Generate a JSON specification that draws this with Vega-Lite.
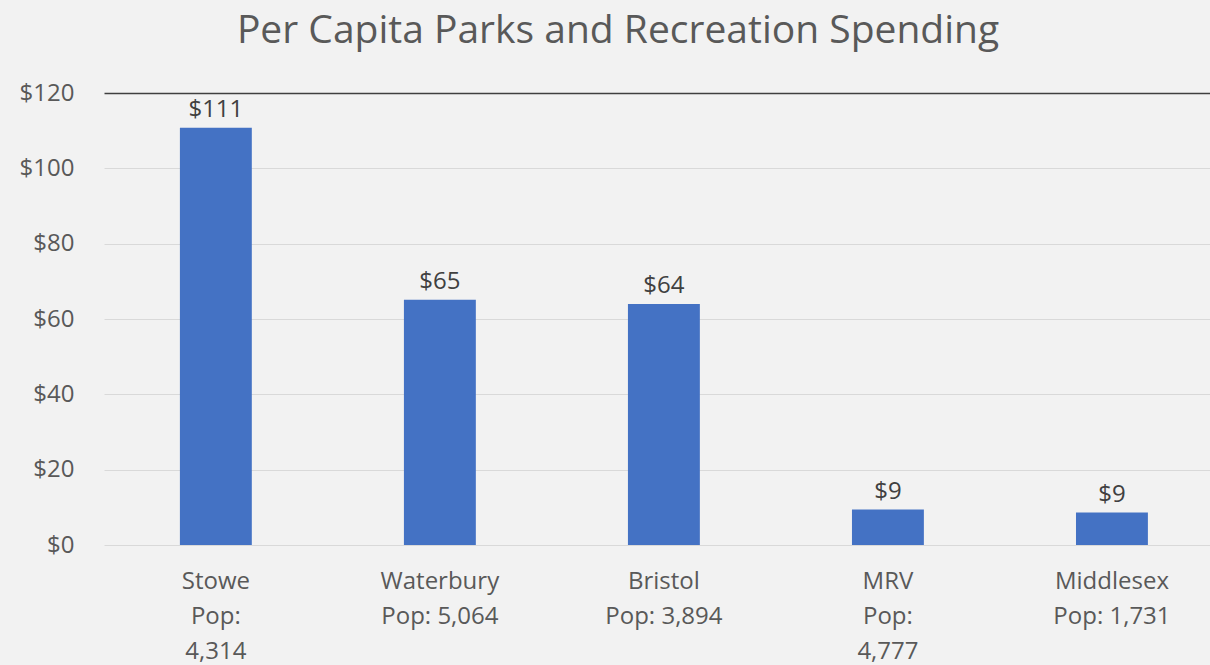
{
  "$schema": "https://vega.github.io/schema/vega-lite/v6.json",
  "autosize": {"type": "none"},
  "width": 1106,
  "height": 452,
  "padding": {"left": 104, "top": 93, "right": 0, "bottom": 120},
  "background": "#f2f2f2",
  "title": {
    "text": "Per Capita Parks and Recreation Spending",
    "font": "Open Sans",
    "fontSize": 39,
    "fontWeight": "normal",
    "color": "#595959",
    "anchor": "middle",
    "dx": -39,
    "offset": 30
  },
  "data": {
    "values": [
      {"town": "Stowe", "label": "Stowe|Pop:|4,314", "spending": 110.8},
      {"town": "Waterbury", "label": "Waterbury|Pop: 5,064", "spending": 65.1},
      {"town": "Bristol", "label": "Bristol|Pop: 3,894", "spending": 64.0},
      {"town": "MRV", "label": "MRV|Pop:|4,777", "spending": 9.4},
      {"town": "Middlesex", "label": "Middlesex|Pop: 1,731", "spending": 8.6}
    ]
  },
  "config": {
    "view": {"stroke": null},
    "font": "Open Sans"
  },
  "encoding": {
    "x": {
      "field": "label",
      "type": "nominal",
      "sort": null,
      "scale": {"paddingInner": 0.679, "paddingOuter": 0.308, "align": 0.55},
      "axis": {
        "title": null,
        "labelAngle": 0,
        "labelExpr": "split(datum.label, '|')",
        "labelFontSize": 24,
        "labelColor": "#595959",
        "labelLineHeight": 35,
        "labelPadding": 24,
        "labelBaseline": "top",
        "ticks": false,
        "domain": false,
        "grid": false
      }
    },
    "y": {
      "field": "spending",
      "type": "quantitative",
      "scale": {"domain": [0, 120]},
      "axis": {
        "title": null,
        "values": [0, 20, 40, 60, 80, 100, 120],
        "format": "$,.0f",
        "labelFontSize": 24,
        "labelColor": "#595959",
        "labelPadding": 30,
        "ticks": false,
        "domain": false,
        "grid": true,
        "gridColor": {"condition": {"test": "datum.value == 120", "value": "#404040"}, "value": "#d9d9d9"},
        "gridWidth": {"condition": {"test": "datum.value == 120", "value": 1.5}, "value": 1.2}
      }
    }
  },
  "layer": [
    {"mark": {"type": "bar", "color": "#4472C4"}},
    {
      "mark": {"type": "text", "baseline": "bottom", "dy": -6, "fontSize": 24, "color": "#404040"},
      "encoding": {
        "text": {"field": "spending", "type": "quantitative", "format": "$,.0f"}
      }
    }
  ]
}
